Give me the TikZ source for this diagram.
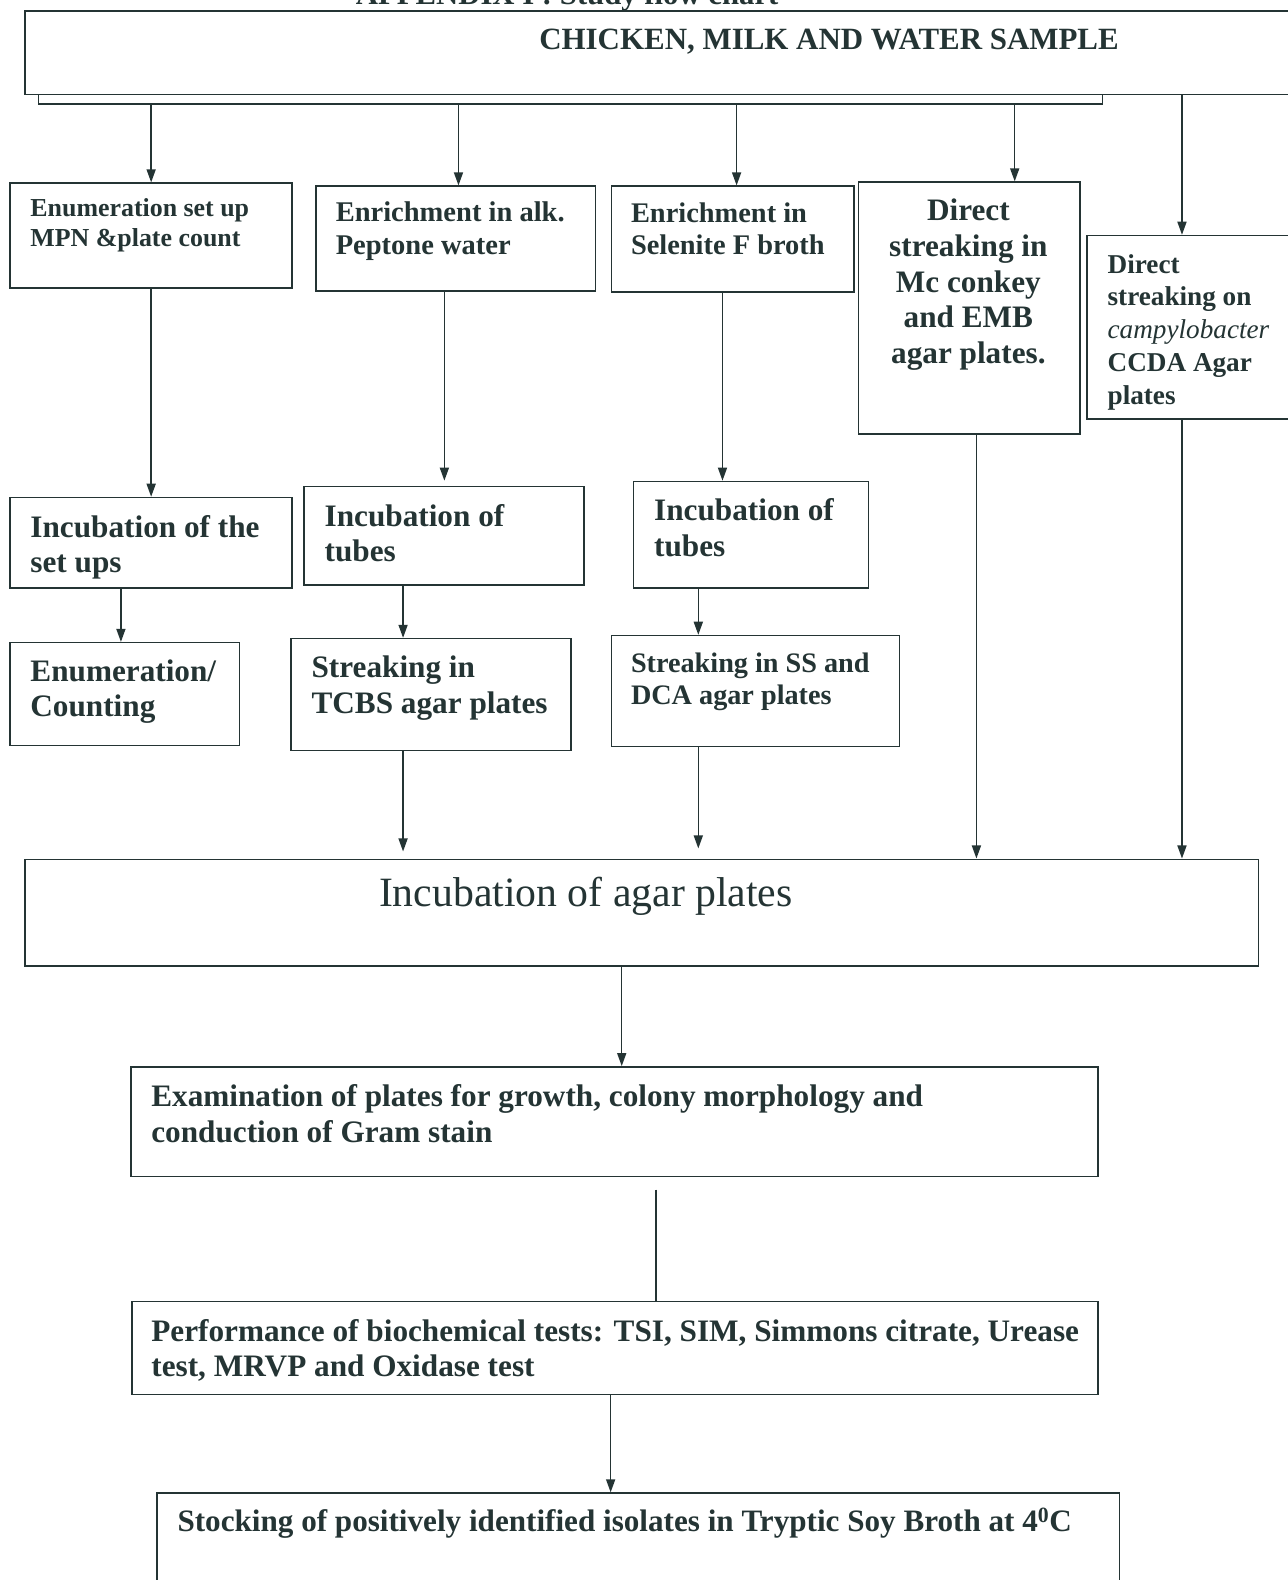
\documentclass[tikz,border=0pt]{standalone}
\usepackage{fontspec}
\setmainfont{Liberation Serif}
\usetikzlibrary{arrows.meta}
\definecolor{ink}{HTML}{243434}
\newcommand\fsz[2]{\fontsize{#1}{#2}\selectfont\bfseries}
\tikzset{
  box/.style={draw=ink, line width=1.5pt, rectangle, inner sep=0pt, anchor=north west},
  txt/.style={anchor=base west, inner sep=0pt, align=left, text=ink},
  arr/.style={draw=ink, line width=1.5pt, -{Triangle[length=13pt,width=9pt]}},
  ln/.style={draw=ink, line width=1.5pt}
}
\begin{document}
\begin{tikzpicture}[x=1pt,y=-1pt]
\useasboundingbox (0,0) rectangle (1278,1568);
\fill[white] (0,0) rectangle (1278,1568);
\clip (0,0) rectangle (1278,1568);

% boxes
\node[box, minimum width=1271pt, minimum height=83pt] (top) at (24,10) {};
\node[box, minimum width=280pt, minimum height=104pt] (b1) at (9,181) {};
\node[box, minimum width=277pt, minimum height=104pt] (b2) at (313,184) {};
\node[box, minimum width=241pt, minimum height=105pt] (b3) at (606,184) {};
\node[box, minimum width=220pt, minimum height=250pt] (b4) at (851,180) {};
\node[box, minimum width=217pt, minimum height=182pt] (b5) at (1078,233) {};
\node[box, minimum width=280pt, minimum height=90pt] (b6) at (9,493) {};
\node[box, minimum width=278pt, minimum height=98pt] (b7) at (301,482) {};
\node[box, minimum width=233pt, minimum height=106pt] (b8) at (628,477) {};
\node[box, minimum width=228pt, minimum height=102pt] (b9) at (9,637) {};
\node[box, minimum width=278pt, minimum height=111pt] (b10) at (288,633) {};
\node[box, minimum width=286pt, minimum height=110pt] (b11) at (606,630) {};
\node[box, minimum width=1224pt, minimum height=106pt] (b12) at (24,852) {};
\node[box, minimum width=960pt, minimum height=109pt] (b13) at (129,1058) {};
\node[box, minimum width=959pt, minimum height=92pt] (b14) at (130,1291) {};
\node[box, minimum width=955pt, minimum height=120pt] (b15) at (155,1481) {};

% texts (base anchor = baseline of the last line)
\node[txt, font={\fsz{30.5}{35}}] (ttl) at (353,4) {APPENDIX I : Study flow chart};
\node[txt, font={\fsz{30.7}{35}}] (ttop) at (535,49) {CHICKEN, MILK AND WATER SAMPLE};
\node[txt, font={\fsz{25.7}{30}}] (t1) at (30,245) {Enumeration set up\\MPN \&plate count};
\node[txt, font={\fsz{28.3}{33}}] (t2) at (333,253) {Enrichment in alk.\\Peptone water};
\node[txt, font={\fsz{28.2}{32}}] (t3) at (626,253) {Enrichment in\\Selenite F broth};
\node[txt, align=center, anchor=base, font={\fsz{31}{35.5}}] (t4) at (961,361) {Direct\\streaking in\\Mc conkey\\and EMB\\agar plates.};
\node[txt, font={\fsz{27}{32.5}}] (t5) at (1099,401) {Direct\\streaking on\\{\mdseries\itshape campylobacter}\\CCDA Agar\\plates};
\node[txt, font={\fsz{31}{35}}] (t6) at (30,568) {Incubation of the\\set ups};
\node[txt, font={\fsz{31}{35}}] (t7) at (322,557) {Incubation of\\tubes};
\node[txt, font={\fsz{31}{35}}] (t8) at (649,552) {Incubation of\\tubes};
\node[txt, font={\fsz{31}{35}}] (t9) at (30,711) {Enumeration/\\Counting};
\node[txt, font={\fsz{31}{36}}] (t10) at (309,708) {Streaking in\\TCBS agar plates};
\node[txt, font={\fsz{28}{32}}] (t11) at (626,699) {Streaking in SS and\\DCA agar plates};
\node[txt, font={\fontsize{41.4}{46}\selectfont}] (t12) at (376,900) {Incubation of agar plates};
\node[txt, font={\fsz{31}{36}}] (t13) at (150,1134) {Examination of plates for growth, colony morphology and\\conduction of Gram stain};
\node[txt, font={\fsz{31}{35}}] (t14) at (150,1366) {Performance of biochemical tests: TSI, SIM, Simmons citrate, Urease\\test, MRVP and Oxidase test};
\node[txt, font={\fsz{30.9}{35}}] (t15) at (176,1520) {Stocking of positively identified isolates in Tryptic Soy Broth at 4\textsuperscript{0}C};

% bus from the sample box
\coordinate (busL) at (38,103);
\coordinate (busR) at (1094,103);
\draw[ln] (top.south -| busL) -- (busL) -- (busR) -- (top.south -| busR);
\coordinate (p1) at (150,103);
\coordinate (p2) at (455,103);
\coordinate (p3) at (731,103);
\coordinate (p4) at (1007,103);
\draw[arr] (p1) -- (b1.north -| p1);
\draw[arr] (p2) -- (b2.north -| p2);
\draw[arr] (p3) -- (b3.north -| p3);
\draw[arr] (p4) -- (b4.north -| p4);
\draw[arr] (top.south -| 1173,0) -- (b5.north -| 1173,0);

% column connectors
\draw[arr] (b1.south -| 150,0) -- (b6.north -| 150,0);
\draw[arr] (b2.south -| 441,0) -- ([yshift=5pt]b7.north -| 441,0);
\draw[arr] (b3.south -| 717,0) -- (b8.north -| 717,0);
\draw[arr] (b6.south -| 120,0) -- (b9.north -| 120,0);
\draw[arr] (b7.south -| 400,0) -- (b10.north -| 400,0);
\draw[arr] (b8.south -| 693,0) -- (b11.north -| 693,0);
\draw[arr] (b10.south -| 400,0) -- ([yshift=7pt]b12.north -| 400,0);
\draw[arr] (b11.south -| 693,0) -- ([yshift=10pt]b12.north -| 693,0);
\draw[arr] (b4.south -| 969,0) -- (b12.north -| 969,0);
\draw[arr] (b5.south -| 1173,0) -- (b12.north -| 1173,0);

% lower chain
\draw[arr] (b12.south -| 617,0) -- (b13.north -| 617,0);
\draw[ln] ([yshift=-12pt]b13.south -| 651,0) -- (b14.north -| 651,0);
\draw[arr] (b14.south -| 606,0) -- (b15.north -| 606,0);
\end{tikzpicture}
\end{document}
